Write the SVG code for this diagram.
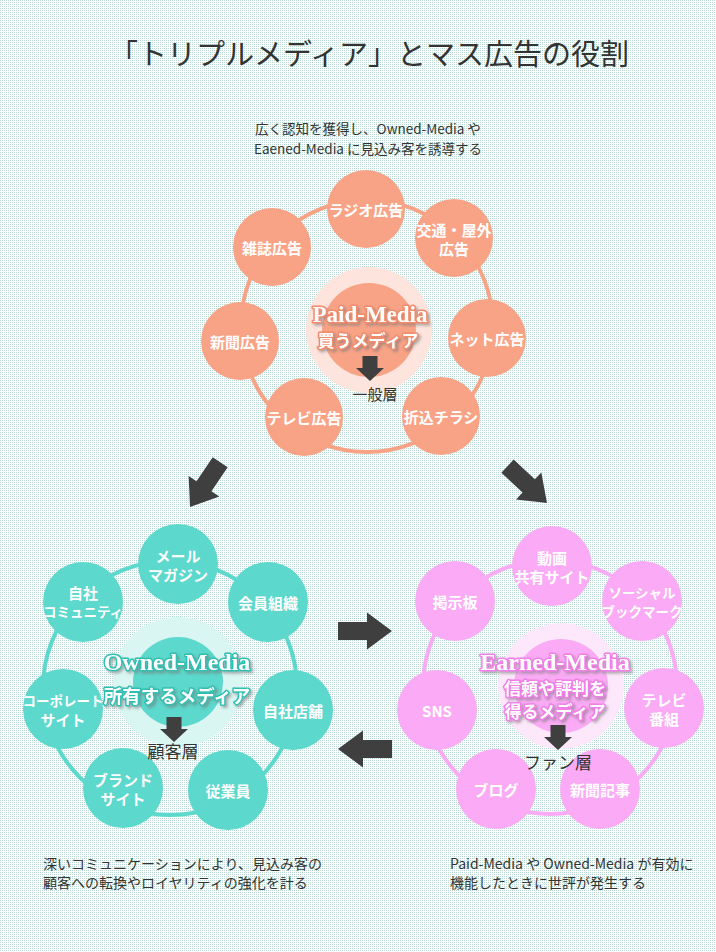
<svg xmlns="http://www.w3.org/2000/svg" width="716" height="952" viewBox="0 0 716 952">
<defs>
<pattern id="dots" x="0" y="0" width="2" height="2" patternUnits="userSpaceOnUse">
<rect x="0" y="0" width="1" height="1" fill="#b8d8d6"/>
</pattern>
<filter id="sh" x="-20%" y="-40%" width="140%" height="180%">
<feDropShadow dx="2" dy="2" stdDeviation="1.5" flood-color="#777" flood-opacity="0.6"/>
</filter>
<polygon id="bigArrow" points="-54,-9 -25,-9 -25,-18.5 0,0 -25,18.5 -25,9 -54,9"/>
<polygon id="smallArrow" points="-7.5,-25 7.5,-25 7.5,-13 14,-13 0,0 -14,-13 -7.5,-13"/>
</defs>
<style>
.jp{font-family:"Noto Sans CJK JP","Noto Sans",sans-serif}
.title{font-size:29px;fill:#333;text-anchor:middle}
.note{font-size:14px;fill:#333}
.lbl{font-size:15px;font-weight:bold;fill:#fff;text-anchor:middle;dominant-baseline:central;font-family:"Noto Sans CJK JP","Noto Sans",sans-serif}
.lbl.s{font-size:13.5px}
.ring{fill:none;stroke-width:4}
.paid{fill:#f9a386}
.owned{fill:#5cd8cc}
.earned{fill:#fbabf5}
.head{font-family:"Liberation Serif",serif;font-weight:bold;fill:#fff;text-anchor:middle;paint-order:stroke;stroke-width:3;stroke-linejoin:round}
.sub{font-family:"Noto Sans CJK JP",sans-serif;font-weight:bold;fill:#fff;text-anchor:middle;paint-order:stroke;stroke-width:3;stroke-linejoin:round}
.layer{font-family:"Noto Sans CJK JP",sans-serif;fill:#333;text-anchor:middle}
.arr{fill:#3f3f3f}
</style>
<rect x="0" y="0" width="716" height="952" fill="#fff"/>
<rect x="0" y="0" width="716" height="952" fill="url(#dots)"/>

<text class="jp title" x="369" y="65">「トリプルメディア」とマス広告の役割</text>
<text class="jp" x="368" y="134" font-size="13.5" fill="#333" text-anchor="middle">広く認知を獲得し、Owned-Media や</text>
<text class="jp" x="368" y="154" font-size="13.5" fill="#333" text-anchor="middle">Eaened-Media に見込み客を誘導する</text>

<!-- Paid cluster -->
<g id="paid-ring"><circle class="ring" cx="367" cy="326" r="126" stroke="#f9a386"/></g>
<g id="paid-radio"><circle class="paid" cx="366" cy="209" r="39"/><text class="lbl" x="366" y="209">ラジオ広告</text></g>
<g id="paid-kotsu"><circle class="paid" cx="454" cy="238" r="39"/><text class="lbl" x="454" y="229">交通・屋外</text><text class="lbl" x="454" y="248">広告</text></g>
<g id="paid-net"><circle class="paid" cx="487" cy="338" r="39"/><text class="lbl" x="487" y="338">ネット広告</text></g>
<g id="paid-orikomi"><circle class="paid" cx="441" cy="416" r="39"/><text class="lbl" x="441" y="416">折込チラシ</text></g>
<g id="paid-tv"><circle class="paid" cx="304" cy="417" r="39"/><text class="lbl" x="304" y="417">テレビ広告</text></g>
<g id="paid-shinbun"><circle class="paid" cx="240" cy="341" r="39"/><text class="lbl" x="240" y="341">新聞広告</text></g>
<g id="paid-zasshi"><circle class="paid" cx="272" cy="247" r="39"/><text class="lbl" x="272" y="247">雑誌広告</text></g>
<g id="paid-center">
<circle cx="369" cy="330" r="63" fill="#fde4dc"/>
<circle cx="369" cy="330" r="47" fill="#f9a386"/>
<text class="head" x="370" y="322" font-size="23" stroke="#f08c6c" filter="url(#sh)">Paid-Media</text>
<text class="sub" x="368" y="347" font-size="17" stroke="#f08c6c" filter="url(#sh)">買うメディア</text>
<use href="#smallArrow" class="arr" transform="translate(370,381)"/>
<text class="layer" x="375" y="400" font-size="15">一般層</text>
</g>

<!-- Owned cluster -->
<g id="owned-ring"><circle class="ring" cx="170" cy="688" r="127" stroke="#5cd8cc"/></g>
<g id="owned-mail"><circle class="owned" cx="178" cy="564" r="40"/><text class="lbl" x="178" y="555">メール</text><text class="lbl" x="178" y="574">マガジン</text></g>
<g id="owned-kaiin"><circle class="owned" cx="268" cy="602" r="40"/><text class="lbl" x="268" y="602">会員組織</text></g>
<g id="owned-tenpo"><circle class="owned" cx="293" cy="710" r="40"/><text class="lbl" x="293" y="710">自社店舗</text></g>
<g id="owned-jugyoin"><circle class="owned" cx="228" cy="790" r="40"/><text class="lbl" x="228" y="790">従業員</text></g>
<g id="owned-brand"><circle class="owned" cx="123" cy="788" r="40"/><text class="lbl" x="123" y="779">ブランド</text><text class="lbl" x="123" y="798">サイト</text></g>
<g id="owned-corporate"><circle class="owned" cx="63" cy="709" r="40"/><text class="lbl s" x="63" y="700">コーポレート</text><text class="lbl" x="63" y="719">サイト</text></g>
<g id="owned-community"><circle class="owned" cx="83" cy="602" r="40"/><text class="lbl" x="83" y="592">自社</text><text class="lbl s" x="83" y="611">コミュニティ</text></g>
<g id="owned-center">
<circle cx="178" cy="682" r="65" fill="#d9f6f2"/>
<circle cx="178" cy="682" r="45" fill="#5cd8cc"/>
<text class="head" x="177" y="670" font-size="24" stroke="#2fbfb2" filter="url(#sh)">Owned-Media</text>
<text class="sub" x="177" y="703" font-size="18.5" stroke="#2fbfb2" filter="url(#sh)">所有するメディア</text>
<use href="#smallArrow" class="arr" transform="translate(174,742)"/>
<text class="layer" x="173" y="758" font-size="17">顧客層</text>
</g>

<!-- Earned cluster -->
<g id="earned-ring"><circle class="ring" cx="550" cy="687" r="127" stroke="#fbabf5"/></g>
<g id="earned-douga"><circle class="earned" cx="552" cy="566" r="40"/><text class="lbl" x="552" y="557">動画</text><text class="lbl" x="552" y="576">共有サイト</text></g>
<g id="earned-social"><circle class="earned" cx="642" cy="601" r="40"/><text class="lbl s" x="642" y="592">ソーシャル</text><text class="lbl s" x="642" y="611">ブックマーク</text></g>
<g id="earned-tv"><circle class="earned" cx="664" cy="708" r="40"/><text class="lbl" x="664" y="699">テレビ</text><text class="lbl" x="664" y="718">番組</text></g>
<g id="earned-kiji"><circle class="earned" cx="600" cy="789" r="40"/><text class="lbl" x="600" y="789">新聞記事</text></g>
<g id="earned-blog"><circle class="earned" cx="496" cy="789" r="40"/><text class="lbl" x="496" y="789">ブログ</text></g>
<g id="earned-sns"><circle class="earned" cx="437" cy="710" r="40"/><text class="lbl" x="437" y="710">SNS</text></g>
<g id="earned-keijiban"><circle class="earned" cx="455" cy="601" r="40"/><text class="lbl" x="455" y="601">掲示板</text></g>
<g id="earned-center">
<circle cx="561" cy="686" r="63" fill="#fde8fb"/>
<circle cx="561" cy="686" r="47" fill="#fbabf5"/>
<text class="head" x="555" y="670" font-size="24" stroke="#f080e8" filter="url(#sh)">Earned-Media</text>
<text class="sub" x="555" y="695" font-size="17" stroke="#f080e8" filter="url(#sh)">信頼や評判を</text>
<text class="sub" x="555" y="718" font-size="17" stroke="#f080e8" filter="url(#sh)">得るメディア</text>
<use href="#smallArrow" class="arr" transform="translate(558,750)"/>
<text class="layer" x="558" y="769" font-size="17">ファン層</text>
</g>

<!-- connectors -->
<g id="connectors" class="arr">
<use href="#bigArrow" transform="translate(190,507) rotate(124)"/>
<use href="#bigArrow" transform="translate(547,503) rotate(43)"/>
<use href="#bigArrow" transform="translate(392,631)"/>
<use href="#bigArrow" transform="translate(338,749) rotate(180)"/>
</g>

<text class="jp note" x="43" y="869">深いコミュニケーションにより、見込み客の</text>
<text class="jp note" x="43" y="888">顧客への転換やロイヤリティの強化を計る</text>
<text class="jp note" x="450" y="869">Paid-Media や Owned-Media が有効に</text>
<text class="jp note" x="450" y="888">機能したときに世評が発生する</text>
</svg>
